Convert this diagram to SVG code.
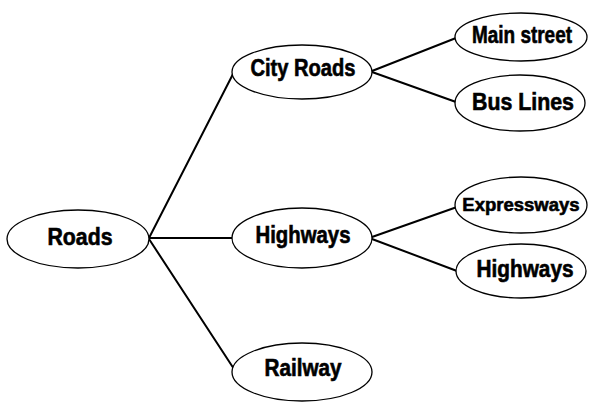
<svg xmlns="http://www.w3.org/2000/svg" width="595" height="402" viewBox="0 0 595 402">
  <style>
    .node ellipse { fill: #ffffff; stroke: #000000; stroke-width: 1.3; }
    .node text { font-family: "Liberation Sans", Arial, sans-serif; font-weight: bold; font-size: 23px; fill: #000000; stroke: #000000; stroke-width: 0.6; text-anchor: middle; }
    .node text.small { font-size: 18.5px; }
    .edges line { stroke: #000000; stroke-width: 2; stroke-linecap: round; }
  </style>
  <rect width="595" height="402" fill="#ffffff"/>
  <g id="connectors" class="edges">
    <line x1="149" y1="238" x2="233" y2="74"/>
    <line x1="149" y1="238" x2="232" y2="238"/>
    <line x1="149" y1="239" x2="234" y2="369"/>
    <line x1="372" y1="71" x2="456" y2="38"/>
    <line x1="372" y1="72" x2="456" y2="102"/>
    <line x1="372" y1="237" x2="457" y2="207"/>
    <line x1="372" y1="239" x2="457" y2="271"/>
  </g>
  <g id="roads" class="node">
    <ellipse cx="78" cy="239" rx="71" ry="29"/>
    <text x="80" y="245" textLength="65" lengthAdjust="spacingAndGlyphs">Roads</text>
  </g>
  <g id="city-roads" class="node">
    <ellipse cx="302" cy="72" rx="70" ry="27"/>
    <text x="303" y="76" textLength="105" lengthAdjust="spacingAndGlyphs">City Roads</text>
  </g>
  <g id="highways-mid" class="node">
    <ellipse cx="302" cy="238" rx="70" ry="30"/>
    <text x="303" y="243" textLength="95" lengthAdjust="spacingAndGlyphs">Highways</text>
  </g>
  <g id="railway" class="node">
    <ellipse cx="302" cy="372" rx="70" ry="29"/>
    <text x="303" y="376" textLength="77" lengthAdjust="spacingAndGlyphs">Railway</text>
  </g>
  <g id="main-street" class="node">
    <ellipse cx="521" cy="37" rx="66" ry="24"/>
    <text x="522" y="43" textLength="100" lengthAdjust="spacingAndGlyphs">Main street</text>
  </g>
  <g id="bus-lines" class="node">
    <ellipse cx="520" cy="103" rx="65" ry="28"/>
    <text x="523" y="110" textLength="102" lengthAdjust="spacingAndGlyphs">Bus Lines</text>
  </g>
  <g id="expressways" class="node">
    <ellipse cx="521" cy="205" rx="66" ry="28"/>
    <text class="small" x="521" y="211">Expressways</text>
  </g>
  <g id="highways-right" class="node">
    <ellipse cx="521" cy="271" rx="65" ry="27"/>
    <text x="525" y="277" textLength="97" lengthAdjust="spacingAndGlyphs">Highways</text>
  </g>
</svg>
